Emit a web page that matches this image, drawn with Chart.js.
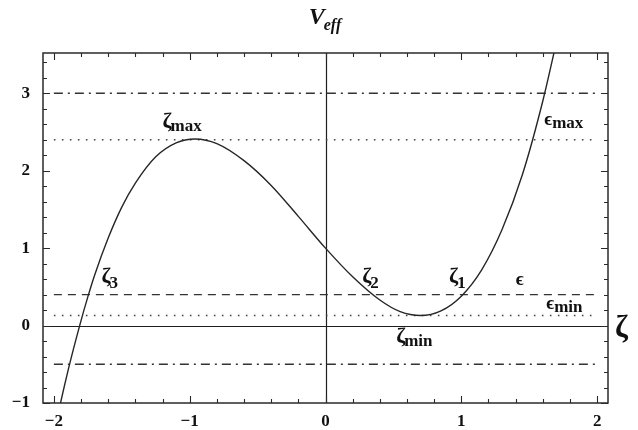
<!DOCTYPE html>
<html>
<head>
<meta charset="utf-8">
<script src="https://cdn.jsdelivr.net/npm/chart.js@4.4.1/dist/chart.umd.min.js"></script>
<style>
  html, body { margin: 0; padding: 0; background: #fff; }
  #wrap { width: 638px; height: 430px; }
</style>
</head>
<body>
<div id="wrap"><canvas id="veff"></canvas></div>
<script>
// effective potential V_eff(ζ)
const zeta = [-2.02, -1.97, -1.89, -1.81, -1.75, -1.70, -1.60, -1.50, -1.40, -1.25, -1.10, -0.96,
              -0.80, -0.60, -0.40, -0.20, 0.00, 0.20, 0.40, 0.55, 0.70, 0.85, 1.00, 1.15, 1.30,
              1.45, 1.60, 1.70, 1.75];
const veff = [-1.57, -1.15, -0.54, 0.00, 0.37, 0.65, 1.13, 1.53, 1.84, 2.18, 2.36, 2.41,
              2.35, 2.13, 1.81, 1.41, 1.00, 0.63, 0.33, 0.18, 0.13, 0.19, 0.38, 0.72, 1.24,
              1.95, 2.90, 3.66, 4.05];

// energy levels: upper bound, ε_max, ε, ε_min, lower bound
const levelValues = [3, 2.4, 0.4, 0.13, -0.5];
const levelKinds = ['dashdot', 'dotted', 'dashed', 'dotted', 'dashdot'];
const levelSpan = [-2, 2];

const xTickLabels = [-2, -1, 0, 1, 2];
const yTickLabels = [-1, 0, 1, 2, 3];

// annotations: main glyph, subscript, anchor (ζ, V)
const notes = [
  { main: 'ζ', sub: 'max', x: -1.20, y: 2.55 },
  { main: 'ϵ', sub: 'max', x: 1.61, y: 2.59 },
  { main: 'ζ', sub: '3', x: -1.65, y: 0.55 },
  { main: 'ζ', sub: '2', x: 0.27, y: 0.55 },
  { main: 'ζ', sub: '1', x: 0.91, y: 0.55 },
  { main: 'ϵ', sub: '', x: 1.40, y: 0.52 },
  { main: 'ϵ', sub: 'min', x: 1.625, y: 0.22 },
  { main: 'ζ', sub: 'min', x: 0.52, y: -0.23 }
];

const SERIF = '"Liberation Serif", "DejaVu Serif", serif';

const dashes = {
  dashdot: { borderDash: [9, 5, 2, 5], borderColor: '#333', borderWidth: 1.4 },
  dashed:  { borderDash: [8, 6], borderColor: '#333', borderWidth: 1.4 },
  dotted:  { borderDash: [1.6, 6.4], borderColor: '#444', borderWidth: 1.5 }
};

const curve = zeta.map((z, i) => ({ x: z, y: veff[i] }));

const levelSets = levelValues.map((v, i) => Object.assign({
  data: levelSpan.map(z => ({ x: z, y: v })),
  showLine: true,
  pointRadius: 0,
  fill: false
}, dashes[levelKinds[i]]));

function fmt(v) {
  return v < 0 ? '\u2212' + Math.abs(v) : String(v);
}

const framePlugin = {
  id: 'frame',
  beforeDatasetsDraw(chart) {
    const { ctx, chartArea: a, scales: { x, y } } = chart;
    const x0 = Math.round(x.getPixelForValue(0)) + 0.5;
    const y0 = Math.round(y.getPixelForValue(0)) + 0.5;
    ctx.save();
    ctx.strokeStyle = '#1e1e1e';
    ctx.lineWidth = 1.2;
    ctx.beginPath();
    ctx.moveTo(x0, a.top); ctx.lineTo(x0, a.bottom);
    ctx.moveTo(a.left, y0); ctx.lineTo(a.right, y0);
    ctx.stroke();
    ctx.restore();
  },
  afterDatasetsDraw(chart) {
    const { ctx, chartArea: a, scales: { x, y } } = chart;
    ctx.save();
    ctx.strokeStyle = '#2a2a2a';
    ctx.lineWidth = 1.5;
    ctx.strokeRect(a.left, a.top, a.right - a.left, a.bottom - a.top);

    // inward ticks on all four sides, minor every 0.2
    ctx.lineWidth = 1.1;
    ctx.beginPath();
    for (let i = 0; i <= 20; i++) {
      const v = -2 + i * 0.2;
      const len = Math.abs(v - Math.round(v)) < 1e-6 ? 7 : 4;
      const px = Math.round(x.getPixelForValue(v)) + 0.5;
      ctx.moveTo(px, a.bottom); ctx.lineTo(px, a.bottom - len);
      ctx.moveTo(px, a.top); ctx.lineTo(px, a.top + len);
    }
    for (let i = 0; i <= 22; i++) {
      const v = -1 + i * 0.2;
      const len = Math.abs(v - Math.round(v)) < 1e-6 ? 7 : 4;
      const py = Math.round(y.getPixelForValue(v)) + 0.5;
      ctx.moveTo(a.left, py); ctx.lineTo(a.left + len, py);
      ctx.moveTo(a.right, py); ctx.lineTo(a.right - len, py);
    }
    ctx.stroke();

    // curve annotations
    ctx.fillStyle = '#111';
    ctx.textBaseline = 'alphabetic';
    ctx.textAlign = 'left';
    notes.forEach(n => {
      const px = x.getPixelForValue(n.x);
      const py = y.getPixelForValue(n.y);
      const isZeta = n.main === 'ζ';
      ctx.font = isZeta ? 'bold 22px ' + SERIF : 'bold 19px ' + SERIF;
      ctx.fillText(n.main, px, py);
      const w = ctx.measureText(n.main).width;
      if (n.sub) {
        const digit = /^[0-9]$/.test(n.sub);
        ctx.font = 'bold 17px ' + SERIF;
        ctx.fillText(n.sub, px + w - (isZeta ? 1 : 0), py + (digit ? 5 : 3));
      }
    });

    // axis titles
    const cx = (a.left + a.right) / 2;
    ctx.font = 'italic bold 24px ' + SERIF;
    const vw = ctx.measureText('V').width;
    ctx.font = 'italic bold 16px ' + SERIF;
    const ew = ctx.measureText('eff').width;
    const tx = cx - (vw + ew) / 2;
    ctx.font = 'italic bold 24px ' + SERIF;
    ctx.fillText('V', tx, 24);
    ctx.font = 'italic bold 16px ' + SERIF;
    ctx.fillText('eff', tx + vw - 1, 30);

    ctx.font = 'bold 31px ' + SERIF;
    ctx.fillText('ζ', a.right + 7, y.getPixelForValue(0) + 11);
    ctx.restore();
  }
};

new Chart(document.getElementById('veff'), {
  type: 'scatter',
  data: {
    datasets: [{
      label: 'V_eff',
      data: curve,
      showLine: true,
      pointRadius: 0,
      borderColor: '#262626',
      borderWidth: 1.4,
      cubicInterpolationMode: 'monotone',
      fill: false
    }].concat(levelSets)
  },
  options: {
    responsive: true,
    maintainAspectRatio: false,
    animation: false,
    events: [],
    layout: { padding: { left: 0, right: 30, top: 53, bottom: 0 } },
    plugins: { legend: { display: false }, tooltip: { enabled: false } },
    scales: {
      x: {
        type: 'linear',
        min: -2.08,
        max: 2.08,
        afterBuildTicks: s => { s.ticks = xTickLabels.map(v => ({ value: v })); },
        afterFit: s => { s.height = 27; },
        grid: { display: false, drawTicks: false },
        border: { display: false },
        ticks: {
          callback: fmt,
          color: '#111',
          padding: 8,
          maxRotation: 0,
          font: { family: SERIF, size: 17, weight: 'bold' }
        }
      },
      y: {
        type: 'linear',
        min: -1,
        max: 3.52,
        afterBuildTicks: s => { s.ticks = yTickLabels.map(v => ({ value: v })); },
        afterFit: s => { s.width = 43; },
        grid: { display: false, drawTicks: false },
        border: { display: false },
        ticks: {
          callback: fmt,
          color: '#111',
          padding: 13,
          font: { family: SERIF, size: 17, weight: 'bold' }
        }
      }
    }
  },
  plugins: [framePlugin]
});
</script>
</body>
</html>
